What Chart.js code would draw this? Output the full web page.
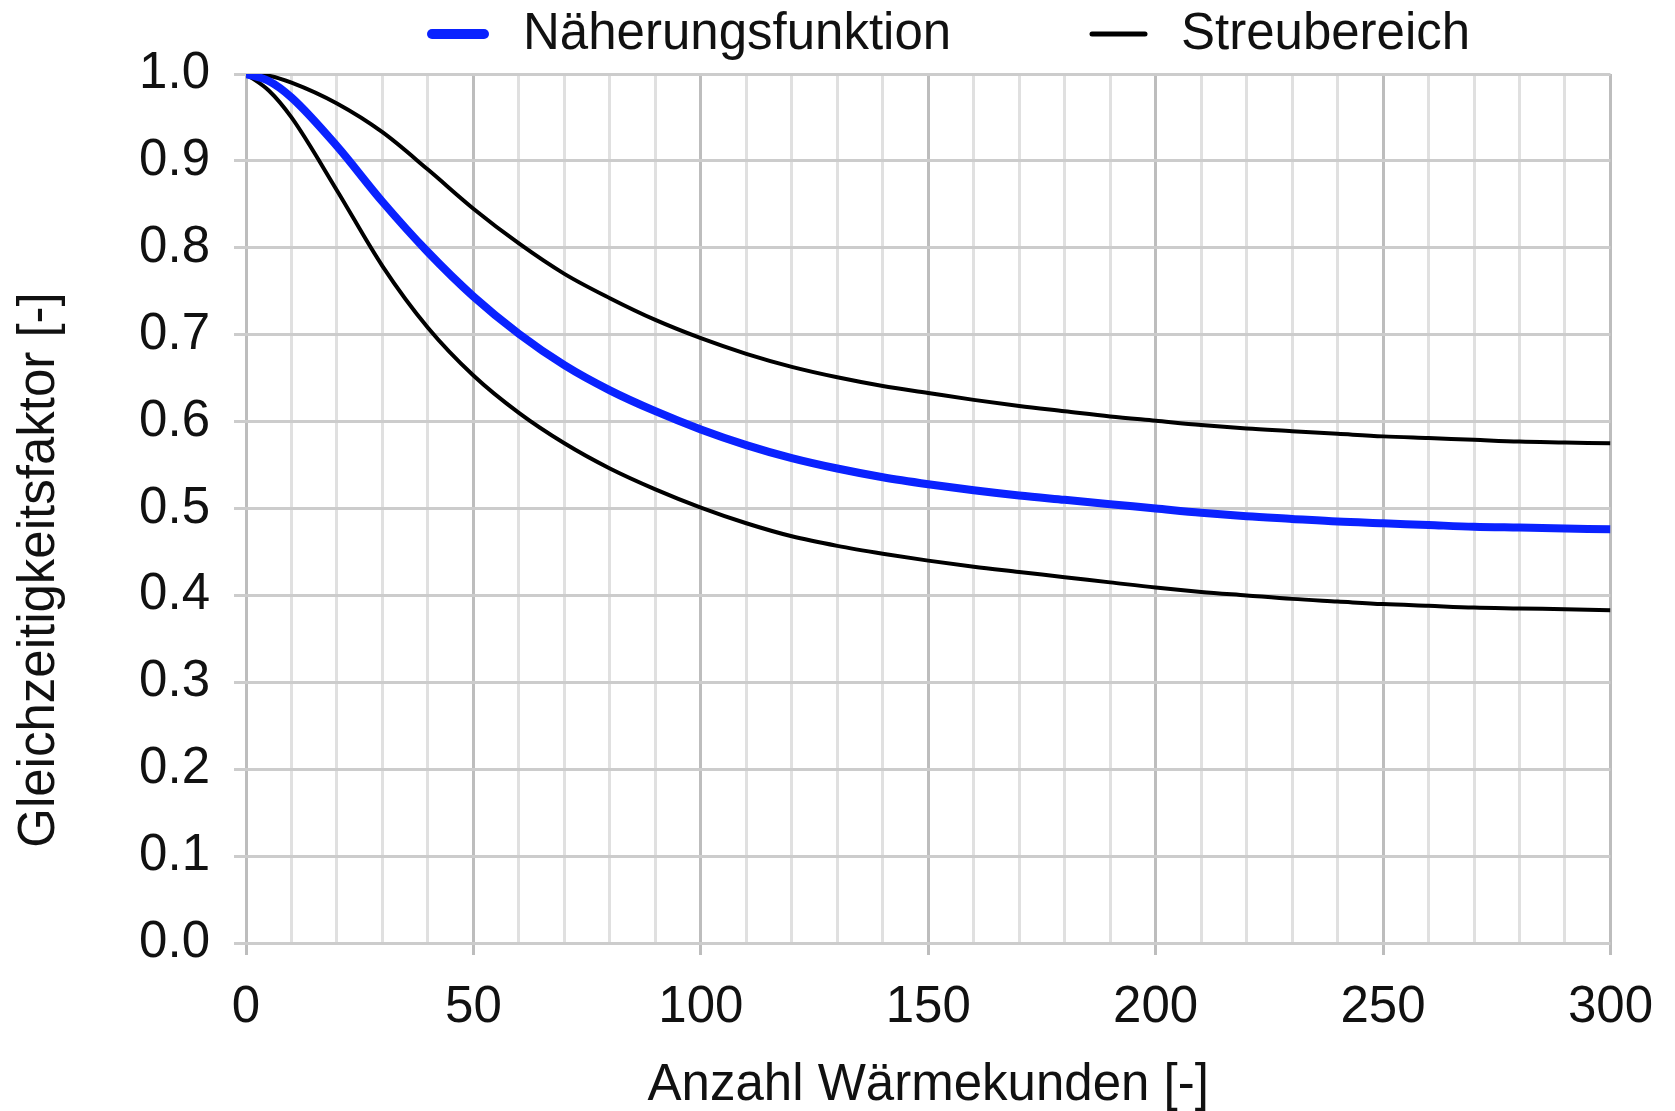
<!DOCTYPE html>
<html lang="de">
<head>
<meta charset="utf-8">
<title>Gleichzeitigkeitsfaktor</title>
<script src="https://cdn.jsdelivr.net/npm/chart.js@4.4.1/dist/chart.umd.min.js"></script>
<style>
  html, body { margin: 0; padding: 0; background: #fff; }
  #chart { display: block; }
</style>
</head>
<body>
<canvas id="chart" width="1675" height="1111"></canvas>
<script>
const kunden = [0, 5, 10, 20, 30, 40, 50, 60, 70, 80, 90, 100, 110, 120, 130, 140, 150,
  160, 170, 180, 190, 200, 210, 220, 230, 240, 250, 260, 270, 280, 290, 300];

const naeherung = [1.000, 0.992, 0.973, 0.917, 0.853, 0.795, 0.744, 0.701, 0.665, 0.636, 0.612,
  0.591, 0.573, 0.558, 0.546, 0.536, 0.528, 0.521, 0.515, 0.510, 0.505, 0.500, 0.495, 0.491,
  0.488, 0.485, 0.483, 0.481, 0.479, 0.478, 0.477, 0.476];

const streuOben = [1.000, 0.998, 0.990, 0.966, 0.933, 0.890, 0.845, 0.805, 0.770, 0.742, 0.717,
  0.696, 0.678, 0.663, 0.651, 0.641, 0.633, 0.625, 0.618, 0.612, 0.606, 0.601, 0.596, 0.592,
  0.589, 0.586, 0.583, 0.581, 0.579, 0.577, 0.576, 0.575];

const streuUnten = [1.000, 0.981, 0.950, 0.866, 0.779, 0.708, 0.653, 0.610, 0.575, 0.546, 0.522,
  0.501, 0.483, 0.468, 0.457, 0.448, 0.440, 0.433, 0.427, 0.421, 0.415, 0.409, 0.404, 0.400,
  0.396, 0.393, 0.390, 0.388, 0.386, 0.385, 0.384, 0.383];

const xTickLabels = [0, 50, 100, 150, 200, 250, 300];
const yTickLabels = ['0.0', '0.1', '0.2', '0.3', '0.4', '0.5', '0.6', '0.7', '0.8', '0.9', '1.0'];

const FONT = '"Liberation Sans", Arial, Helvetica, sans-serif';
const TEXT = '#111111';
const BLUE = '#0a22ff';

const toPoints = (ys) => kunden.map((x, i) => ({ x: x, y: ys[i] }));

// legend is drawn by hand so the gap between the two entries matches
const legendEntries = [
  { datasetIndex: 0, from: 432, to: 484, width: 10, textX: 523 },
  { datasetIndex: 1, from: 1092, to: 1145, width: 5, textX: 1181 }
];

const extraText = {
  id: 'extraText',
  afterDraw(chart) {
    const ctx = chart.ctx;
    ctx.save();
    ctx.font = '51px ' + FONT;
    ctx.fillStyle = TEXT;
    ctx.textBaseline = 'middle';
    legendEntries.forEach(e => {
      const ds = chart.data.datasets[e.datasetIndex];
      ctx.strokeStyle = ds.borderColor;
      ctx.lineWidth = e.width;
      ctx.lineCap = 'round';
      ctx.beginPath();
      ctx.moveTo(e.from, 34);
      ctx.lineTo(e.to, 34);
      ctx.stroke();
      ctx.textAlign = 'left';
      ctx.fillText(ds.label, e.textX, 35);
    });
    // y title sits a bit below the middle of the plot in the original
    ctx.translate(40, 570);
    ctx.rotate(-Math.PI / 2);
    ctx.textAlign = 'center';
    ctx.fillText('Gleichzeitigkeitsfaktor [-]', 0, 0);
    ctx.restore();
  }
};

new Chart(document.getElementById('chart'), {
  type: 'line',
  data: {
    datasets: [
      {
        label: 'Näherungsfunktion',
        data: toPoints(naeherung),
        borderColor: BLUE,
        borderWidth: 8,
        pointRadius: 0,
        cubicInterpolationMode: 'monotone'
      },
      {
        label: 'Streubereich',
        data: toPoints(streuOben),
        borderColor: '#000000',
        borderWidth: 4,
        pointRadius: 0,
        cubicInterpolationMode: 'monotone'
      },
      {
        label: 'Streubereich',
        data: toPoints(streuUnten),
        borderColor: '#000000',
        borderWidth: 4,
        pointRadius: 0,
        cubicInterpolationMode: 'monotone'
      }
    ]
  },
  options: {
    responsive: false,
    animation: false,
    devicePixelRatio: 1,
    layout: { padding: { top: 74, right: 56, bottom: 0, left: 0 } },
    plugins: {
      legend: { display: false },
      tooltip: { enabled: false }
    },
    scales: {
      x: {
        type: 'linear',
        min: 0,
        max: 300,
        afterFit: (scale) => { scale.height = 168; },
        border: { display: false },
        grid: {
          color: (c) => xTickLabels.includes(c.tick.value) ? '#bdbdbd' : '#e0e0e0',
          tickColor: (c) => xTickLabels.includes(c.tick.value) ? '#bdbdbd' : 'rgba(0,0,0,0)',
          lineWidth: 3,
          tickLength: 12
        },
        ticks: {
          stepSize: 10,
          autoSkip: false,
          maxRotation: 0,
          padding: 22,
          color: TEXT,
          font: { family: FONT, size: 51 },
          callback: (v) => xTickLabels.includes(v) ? String(v) : ''
        },
        title: {
          display: true,
          text: 'Anzahl Wärmekunden [-]',
          color: TEXT,
          font: { family: FONT, size: 51, lineHeight: 1 },
          padding: { top: 0, bottom: 0 }
        }
      },
      y: {
        min: 0,
        max: 1,
        afterFit: (scale) => { scale.width = 246; },
        border: { display: false },
        grid: {
          color: '#cccccc',
          lineWidth: 3,
          tickLength: 12
        },
        ticks: {
          stepSize: 0.1,
          padding: 24,
          color: TEXT,
          font: { family: FONT, size: 51 },
          callback: (v) => yTickLabels.find(l => Math.abs(parseFloat(l) - v) < 1e-6) || ''
        }
      }
    }
  },
  plugins: [extraText]
});
</script>
</body>
</html>
